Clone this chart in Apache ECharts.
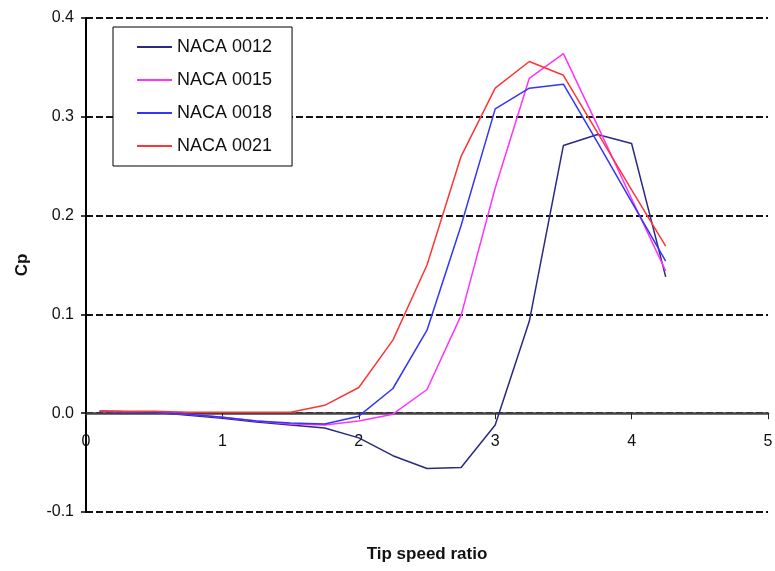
<!DOCTYPE html>
<html>
<head>
<meta charset="utf-8">
<script src="https://cdn.jsdelivr.net/npm/echarts@6/dist/echarts.min.js"></script>
<style>html,body{margin:0;padding:0;background:#fff}#c{width:775px;height:571px}</style>
</head>
<body>
<div id="c"></div>
<script>
var tsr = [0.1, 0.5, 0.75, 1.0, 1.25, 1.5, 1.75, 2.0, 2.25, 2.5, 2.75, 3.0, 3.25, 3.5, 3.75, 4.0, 4.25];
var naca0012 = [0.002, 0.001, -0.002, -0.005, -0.009, -0.012, -0.015, -0.025, -0.043, -0.056, -0.055, -0.012, 0.093, 0.271, 0.282, 0.273, 0.138];
var naca0015 = [0.002, 0.001, -0.001, -0.004, -0.008, -0.011, -0.012, -0.008, -0.001, 0.024, 0.099, 0.228, 0.339, 0.364, 0.291, 0.217, 0.144];
var naca0018 = [0.002, 0.001, -0.001, -0.004, -0.008, -0.010, -0.011, -0.003, 0.025, 0.084, 0.19, 0.308, 0.329, 0.333, 0.274, 0.214, 0.154];
var naca0021 = [0.002, 0.002, 0.001, 0.001, 0.001, 0.001, 0.008, 0.026, 0.074, 0.150, 0.260, 0.329, 0.356, 0.342, 0.284, 0.226, 0.169];
var seriesNames = ['NACA 0012', 'NACA 0015', 'NACA 0018', 'NACA 0021'];
var seriesColors = ['#2a2a80', '#ff33ff', '#3535f5', '#ff3535'];
var xTicks = ['0', '1', '2', '3', '4', '5'];

function pairs(ys) { return tsr.map(function (x, i) { return [x, ys[i]]; }); }
var allData = [naca0012, naca0015, naca0018, naca0021];
var font = '"Liberation Sans", Arial, sans-serif';

var chart = echarts.init(document.getElementById('c'));
chart.setOption({
  animation: false,
  backgroundColor: '#fff',
  grid: { left: 86, right: 7, top: 18, bottom: 59, containLabel: false, outerBoundsMode: 'none' },
  legend: {
    orient: 'vertical', left: 113, top: 27,
    data: seriesNames,
    icon: 'rect',
    backgroundColor: '#fff', borderColor: '#000', borderWidth: 1,
    padding: [9, 20, 9, 24],
    itemWidth: 35, itemHeight: 2, itemGap: 11,
    textStyle: { fontFamily: font, fontSize: 18, lineHeight: 22, color: '#111' }
  },
  xAxis: {
    type: 'value', min: 0, max: 5, interval: 1,
    name: 'Tip speed ratio', nameLocation: 'middle', nameGap: 34,
    nameTextStyle: { fontFamily: font, fontSize: 17, fontWeight: 'bold', color: '#111' },
    axisLine: { onZero: true, lineStyle: { color: '#444', width: 2.5 } },
    axisTick: { show: true, length: 6, lineStyle: { color: '#222', width: 1 } },
    axisLabel: { margin: -78, fontFamily: font, fontSize: 16, color: '#111',
      formatter: function (v) { return xTicks[Math.round(v)]; } },
    splitLine: { show: false }
  },
  yAxis: {
    type: 'value', min: -0.1, max: 0.4, interval: 0.1,
    name: 'Cp', nameLocation: 'middle', nameGap: 55,
    nameTextStyle: { fontFamily: font, fontSize: 17, fontWeight: 'bold', color: '#111' },
    axisLine: { show: true, onZero: false, lineStyle: { color: '#000', width: 2 } },
    axisTick: { show: true, length: 5, lineStyle: { color: '#000', width: 1.5 } },
    axisLabel: { margin: 12, fontFamily: font, fontSize: 16, color: '#111',
      formatter: function (v) { return v.toFixed(1); } },
    splitLine: { show: true, lineStyle: { color: '#111', width: 1.8, type: [7, 3] } }
  },
  series: seriesNames.map(function (n, i) {
    return {
      name: n, type: 'line', data: pairs(allData[i]),
      symbol: 'none', smooth: false,
      lineStyle: { color: seriesColors[i], width: 1.5 },
      itemStyle: { color: seriesColors[i] },
      z: 3
    };
  })
});
</script>
</body>
</html>
